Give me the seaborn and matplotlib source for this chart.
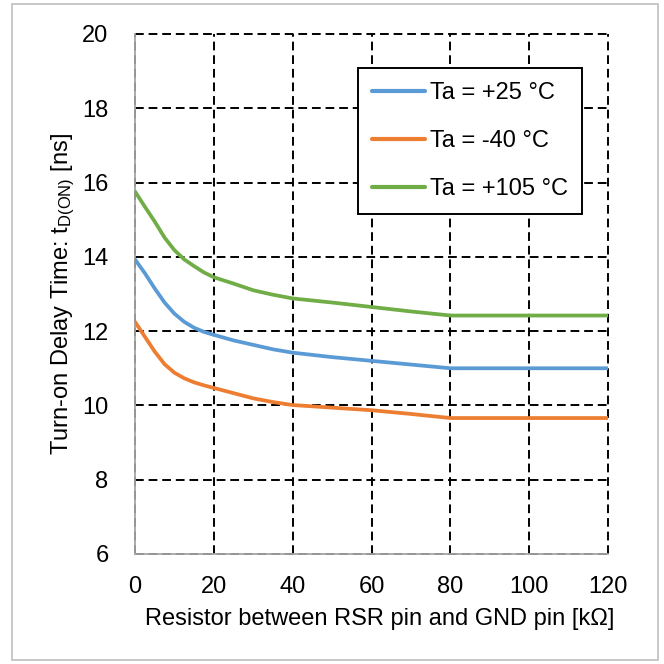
import pandas as pd
import seaborn as sns
import matplotlib.pyplot as plt
from matplotlib.patches import Rectangle

# values
resistor_kohm = [0, 2.5, 5, 7.5, 10, 12.5, 15, 17.5, 20, 25, 30, 35, 40, 50, 60, 70, 80, 90, 100, 110, 120]
delay_25c = [13.93, 13.56, 13.15, 12.77, 12.47, 12.25, 12.09, 11.98, 11.9, 11.75, 11.63, 11.51, 11.42,
             11.3, 11.2, 11.1, 11.0, 11.0, 11.0, 11.0, 11.0]
delay_m40c = [12.25, 11.85, 11.45, 11.11, 10.88, 10.73, 10.62, 10.54, 10.47, 10.33, 10.19, 10.09, 10.01,
              9.94, 9.87, 9.77, 9.66, 9.66, 9.66, 9.66, 9.66]
delay_105c = [15.76, 15.35, 14.95, 14.52, 14.18, 13.93, 13.75, 13.58, 13.45, 13.28, 13.1, 12.98, 12.88,
              12.77, 12.65, 12.53, 12.42, 12.42, 12.42, 12.42, 12.42]
labels = ['Ta = +25 °C', 'Ta = -40 °C', 'Ta = +105 °C']
colors = ['#5B9BD5', '#ED7D31', '#70AD47']

df = pd.concat([
    pd.DataFrame({'R': resistor_kohm, 'td': delay_25c, 'temp': labels[0]}),
    pd.DataFrame({'R': resistor_kohm, 'td': delay_m40c, 'temp': labels[1]}),
    pd.DataFrame({'R': resistor_kohm, 'td': delay_105c, 'temp': labels[2]}),
])

sns.set_style('white')
plt.rcParams['font.family'] = ['Liberation Sans', 'DejaVu Sans']
plt.rcParams['mathtext.fontset'] = 'custom'
plt.rcParams['mathtext.rm'] = 'Liberation Sans'
plt.rcParams['text.color'] = 'black'
plt.rcParams['axes.labelcolor'] = 'black'
plt.rcParams['xtick.color'] = 'black'
plt.rcParams['ytick.color'] = 'black'

fig = plt.figure(figsize=(6.64, 6.64), dpi=100)
ax = fig.add_axes([0.2033, 0.1657, 0.7124, 0.7831])

sns.lineplot(data=df, x='R', y='td', hue='temp', hue_order=labels,
             palette=colors, linewidth=2.7, ax=ax, zorder=3)

ax.set_xlim(0, 120)
ax.set_ylim(6, 20)
ax.set_xticks(range(0, 121, 20))
ax.set_yticks(range(6, 21, 2))
ax.grid(True, color='black', linewidth=1.4, linestyle=(0, (4.5, 2.5)))
for gl in ax.get_xgridlines() + ax.get_ygridlines():
    gl.set_clip_on(False)
ax.set_axisbelow(True)

for s in ['top', 'right']:
    ax.spines[s].set_visible(False)
for s in ['left', 'bottom']:
    ax.spines[s].set_color('#a6a6a6')
    ax.spines[s].set_linewidth(1.3)
    ax.spines[s].set_zorder(2.5)

ax.tick_params(axis='x', length=0, pad=16, labelsize=17)
ax.tick_params(axis='y', length=0, pad=19, labelsize=17)
ax.set_xlabel('Resistor between RSR pin and GND pin [kΩ]', fontsize=17, labelpad=10)
ax.set_ylabel(r'Turn-on Delay Time: t$\mathregular{_{D(ON)}}$ [ns]', fontsize=17, labelpad=4)
ax.xaxis.set_label_coords(0.518, -0.103)

leg = ax.legend(loc='upper left', bbox_to_anchor=(0.471, 0.935), fontsize=17,
                frameon=True, fancybox=False, framealpha=1, edgecolor='black',
                handlelength=2.25, handletextpad=0.2, labelspacing=1.1,
                borderpad=0.6, borderaxespad=0)
leg.get_frame().set_linewidth(1.4)
for line in leg.get_lines():
    line.set_linewidth(3)

fig.patches.append(Rectangle((12 / 664, 4 / 664), 646 / 664, 656 / 664,
                             transform=fig.transFigure, fill=False,
                             edgecolor='#bfbfbf', linewidth=1.2))

plt.savefig('out.png', dpi=100)
